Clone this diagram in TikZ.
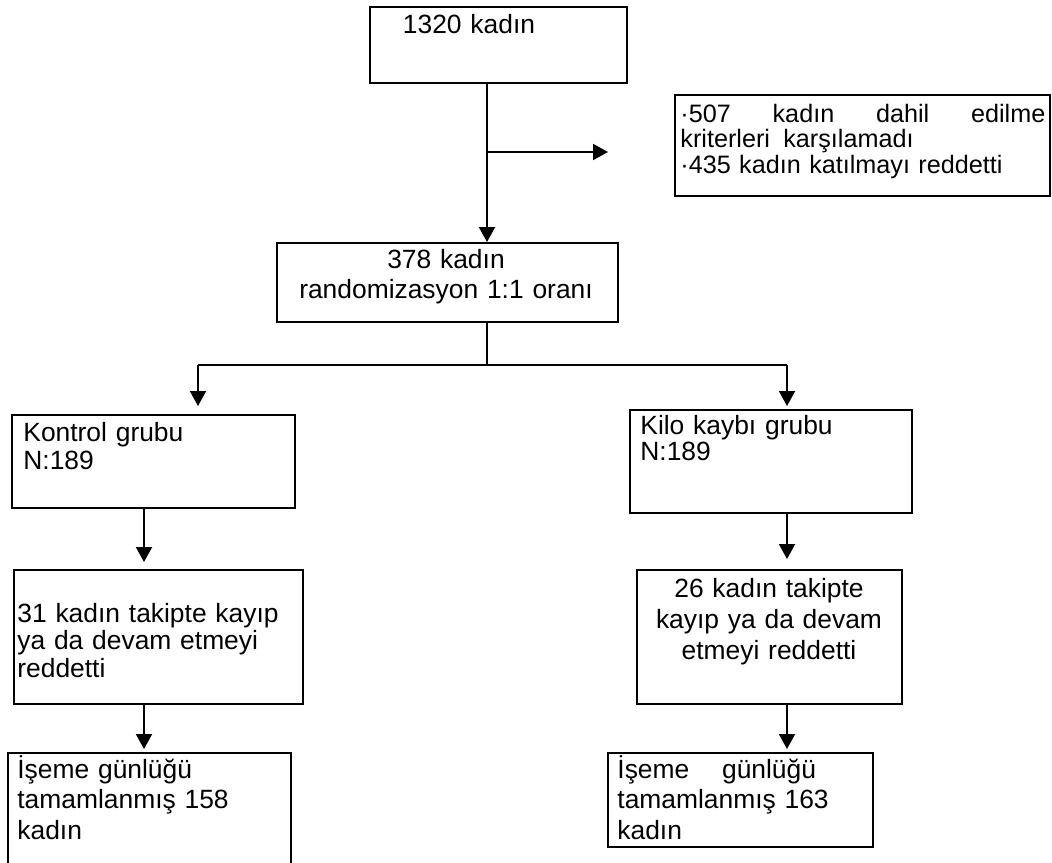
\documentclass[tikz,border=0pt]{standalone}
\usepackage{fontspec}
\setmainfont{Liberation Sans}
\usepackage{tikz}
\usetikzlibrary{arrows.meta}
\tikzset{
  box/.style={draw=black, line width=1pt, inner sep=0pt},
  txt/.style={inner sep=0pt, align=left, text width=135pt, font=\fontsize{13.2}{13.5}\selectfont},
  lines/.style={execute at begin node={\setlength{\baselineskip}{#1}}},
  arr/.style={draw=black, line width=1pt, -{Triangle[width=8pt,length=7.5pt]}},
  link/.style={draw=black, line width=0.65pt},
}

\begin{document}
\begin{tikzpicture}[x=0.5pt, y=-0.5pt]
  \useasboundingbox (0,0) rectangle (1052,862);
  \clip (0,0) rectangle (1052,862);
  % boxes
  \node[box, minimum width=128.5pt, minimum height=38pt] (all) at (498.5,45) {};
  \node[box, minimum width=187.5pt, minimum height=50.5pt] (excl) at (862.5,145.5) {};
  \node[box, minimum width=170.5pt, minimum height=39.5pt] (rand) at (447.5,282.5) {};
  \node[box, minimum width=141.5pt, minimum height=46.5pt] (ctl) at (153.5,461.5) {};
  \node[box, minimum width=141pt, minimum height=51.5pt] (wl) at (771,461.5) {};
  \node[box, minimum width=144.5pt, minimum height=67pt] (ctlLoss) at (158.5,637) {};
  \node[box, minimum width=132.5pt, minimum height=67pt] (wlLoss) at (769.5,637) {};
  \node[box, minimum width=141.5pt, minimum height=60pt] (ctlDone) at (149.5,813) {};
  \node[box, minimum width=132.5pt, minimum height=47pt] (wlDone) at (740.5,800) {};
  % texts
  \node[txt, anchor=base, text width=120pt, align=center] (all-t) at (469,33) {1320 kadın};
  \node[txt, anchor=base west, text width=182.5pt, font=\fontsize{12.6}{12.5}\selectfont, lines=12.75pt] (excl-t) at (680,122)
    {·507\hfill kadın\hfill dahil\hfill edilme\\kriterleri\hspace{2.5pt} karşılamadı\\·435 kadın katılmayı reddetti};
  \node[txt, anchor=base, text width=165pt, align=center, lines=15pt] (rand-t) at (446,268)
    {378 kadın\\randomizasyon 1:1 oranı};
  \node[txt, anchor=base west, lines=14pt] (ctl-t) at (23,441) {Kontrol grubu\\N:189};
  \node[txt, anchor=base west, lines=13pt] (wl-t) at (640,434) {Kilo kaybı grubu\\N:189};
  \node[txt, anchor=base west, lines=13.75pt] (ctlLoss-t) at (17,622)
    {31 kadın takipte kayıp\\ya da devam etmeyi\\reddetti};
  \node[txt, anchor=base, text width=130pt, align=center, lines=15.5pt] (wlLoss-t) at (769,597)
    {26 kadın takipte\\kayıp ya da devam\\etmeyi reddetti};
  \node[txt, anchor=base west, lines=15.25pt] (ctlDone-t) at (17,778)
    {İşeme günlüğü\\tamamlanmış 158\\kadın};
  \node[txt, anchor=base west, lines=15.25pt] (wlDone-t) at (617,778)
    {İşeme\hspace{12pt} günlüğü\\tamamlanmış 163\\kadın};
  % connectors
  \coordinate (stem) at (487,0);
  \coordinate (exTip) at (608,152);
  \coordinate (splitL) at (198,365);
  \coordinate (splitR) at (787,365);
  \coordinate (colL) at (144,0);
  \coordinate (colR) at (787,0);
  \draw[arr] (stem |- all.south) -- (stem |- rand.north);
  \draw[arr] (exTip -| stem) -- (exTip);
  \draw[link] (stem |- rand.south) -- (stem |- splitL);
  \draw[link] (splitL) -- (splitR);
  \draw[arr, shorten >=4pt] (splitL) -- (splitL |- ctl.north);
  \draw[arr, shorten >=1.5pt] (splitR) -- (splitR |- wl.north);
  \draw[arr, shorten >=3.5pt] (colL |- ctl.south) -- (colL |- ctlLoss.north);
  \draw[arr, shorten >=5pt] (colR |- wl.south) -- (colR |- wlLoss.north);
  \draw[arr, shorten >=1.5pt] (colL |- ctlLoss.south) -- (colL |- ctlDone.north);
  \draw[arr, shorten >=1.5pt] (colR |- wlLoss.south) -- (colR |- wlDone.north);
\end{tikzpicture}
\end{document}
